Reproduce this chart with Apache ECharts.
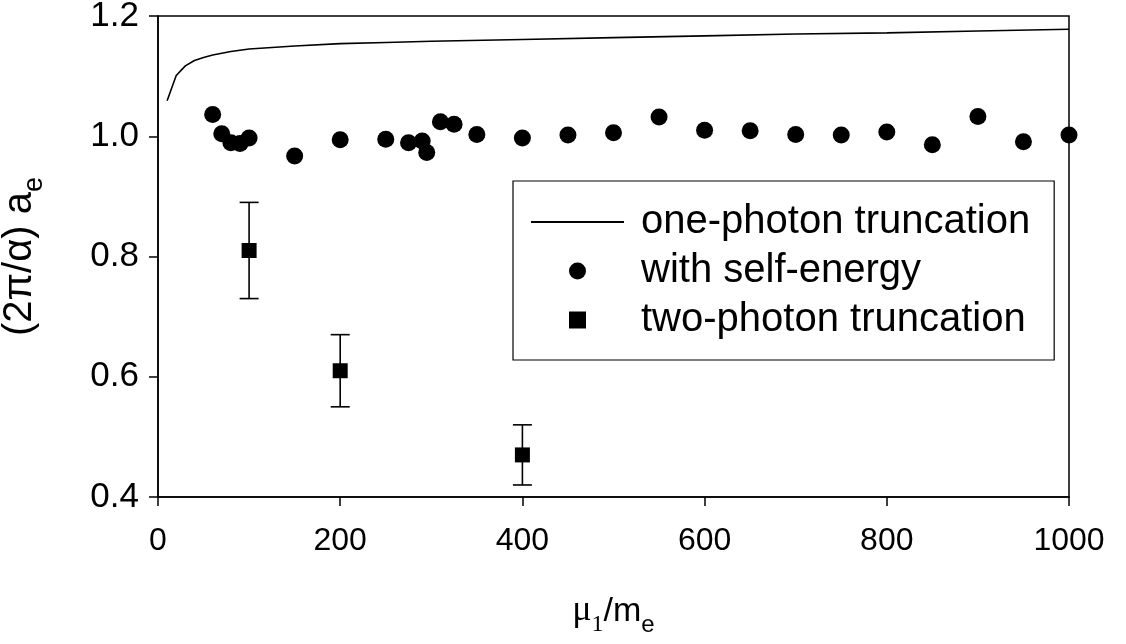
<!DOCTYPE html>
<html>
<head>
<meta charset="utf-8">
<script src="https://cdn.jsdelivr.net/npm/echarts@6/dist/echarts.min.js"></script>
<style>html,body{margin:0;padding:0;background:#fff;}#c{width:1126px;height:644px;}</style>
</head>
<body>
<div id="c"></div>
<script>
// one-photon truncation curve
const oneX = [10, 20, 30, 40, 50, 60, 70, 80, 90, 100, 150, 200, 250, 300, 400, 500, 600, 700, 800, 900, 1000];
const oneY = [1.059, 1.101, 1.117, 1.126, 1.131, 1.135, 1.138, 1.141, 1.143, 1.145, 1.150, 1.154, 1.156, 1.158, 1.161, 1.164, 1.167, 1.170, 1.172, 1.175, 1.178];
// with self-energy points
const selfX = [60, 70, 80, 90, 100, 150, 200, 250, 275, 290, 295, 310, 325, 350, 400, 450, 500, 550, 600, 650, 700, 750, 800, 850, 900, 950, 1000];
const selfY = [1.036, 1.004, 0.989, 0.988, 0.997, 0.967, 0.994, 0.995, 0.989, 0.992, 0.973, 1.024, 1.020, 1.003, 0.997, 1.002, 1.006, 1.032, 1.010, 1.009, 1.003, 1.002, 1.007, 0.986, 1.033, 0.991, 1.002];
// two-photon truncation points with error bars
const twoX = [100, 200, 400];
const twoY = [0.81, 0.61, 0.47];
const twoErr = [0.08, 0.06, 0.05];
// axis ticks
const xTicks = [0, 200, 400, 600, 800, 1000];
const yTicks = [0.4, 0.6, 0.8, 1.0, 1.2];

const SANS = '"Liberation Sans", Arial, sans-serif';
const SERIF = '"Liberation Serif", "Times New Roman", serif';
const SQUARE = 'path://M0,0L10,0L10,10L0,10Z';

const chart = echarts.init(document.getElementById('c'), null, {renderer: 'canvas'});

const option = {
  animation: false,
  backgroundColor: '#fff',
  grid: {
    left: 158, right: 57, top: 16, bottom: 147,
    outerBoundsMode: 'none', containLabel: false,
    show: true, borderColor: '#000', borderWidth: 1.5, backgroundColor: 'transparent'
  },
  legend: {
    orient: 'vertical',
    left: 513, top: 181,
    backgroundColor: '#fff',
    borderColor: '#000', borderWidth: 1.2,
    padding: [21, 24, 20, 17],
    itemWidth: 93, itemHeight: 17, itemGap: 9,
    selectedMode: false,
    textStyle: { fontFamily: SANS, fontSize: 40, color: '#000', lineHeight: 40, padding: [0, 0, 0, 12] },
    data: [
      { name: 'one-photon truncation', itemStyle: { color: 'rgba(0,0,0,0)', borderWidth: 0, opacity: 0 } },
      { name: 'with self-energy' },
      { name: 'two-photon truncation' }
    ]
  },
  xAxis: {
    type: 'value', min: xTicks[0], max: xTicks[xTicks.length - 1], interval: 200,
    axisLine: { show: true, onZero: false, lineStyle: { color: '#000', width: 1.5 } },
    axisTick: { show: true, inside: false, length: 9, lineStyle: { color: '#000', width: 1.5 } },
    splitLine: { show: false },
    axisLabel: { fontFamily: SANS, fontSize: 32, color: '#000', margin: 28, formatter: v => String(v) },
    name: '{m|μ}{s1|1}{t|/m}{s2|e}',
    nameLocation: 'middle', nameGap: 96,
    nameTextStyle: {
      rich: {
        m: { fontFamily: SERIF, fontSize: 36, color: '#000', verticalAlign: 'bottom', padding: [0, 0, 8, 0] },
        s1: { fontFamily: SERIF, fontSize: 24, color: '#000', verticalAlign: 'bottom' },
        t: { fontFamily: SANS, fontSize: 34, color: '#000', verticalAlign: 'bottom', padding: [0, 0, 8, 0] },
        s2: { fontFamily: SANS, fontSize: 24, color: '#000', verticalAlign: 'bottom' }
      }
    }
  },
  yAxis: {
    type: 'value', min: yTicks[0], max: yTicks[yTicks.length - 1], interval: 0.2,
    axisLine: { show: true, onZero: false, lineStyle: { color: '#000', width: 1.5 } },
    axisTick: { show: true, inside: false, length: 9, lineStyle: { color: '#000', width: 1.5 } },
    splitLine: { show: false },
    axisLabel: { fontFamily: SANS, fontSize: 35, color: '#000', margin: 19, formatter: v => v.toFixed(1) },
    name: '{a|(2π/α) a}{s|e}',
    nameLocation: 'middle', nameGap: 110, nameRotate: 90,
    nameTextStyle: {
      rich: {
        a: { fontFamily: SANS, fontSize: 40, color: '#000', verticalAlign: 'bottom', padding: [0, 0, 8, 0] },
        s: { fontFamily: SANS, fontSize: 27, color: '#000', verticalAlign: 'bottom' }
      }
    }
  },
  series: [
    {
      name: 'one-photon truncation', type: 'line',
      data: oneX.map((x, i) => [x, oneY[i]]),
      symbol: 'none', smooth: false,
      lineStyle: { color: '#000', width: 1.6 },
      itemStyle: { color: '#000' },
      z: 3
    },
    {
      name: 'errbars', type: 'custom',
      data: twoX.map((x, i) => [x, twoY[i] - twoErr[i], twoY[i] + twoErr[i]]),
      renderItem: function (params, api) {
        const lo = api.coord([api.value(0), api.value(1)]);
        const hi = api.coord([api.value(0), api.value(2)]);
        const cap = 9.5;
        const st = { stroke: '#000', lineWidth: 1.6 };
        return {
          type: 'group',
          children: [
            { type: 'line', shape: { x1: lo[0], y1: lo[1], x2: hi[0], y2: hi[1] }, style: st },
            { type: 'line', shape: { x1: lo[0] - cap, y1: lo[1], x2: lo[0] + cap, y2: lo[1] }, style: st },
            { type: 'line', shape: { x1: hi[0] - cap, y1: hi[1], x2: hi[0] + cap, y2: hi[1] }, style: st }
          ]
        };
      },
      z: 3
    },
    {
      name: 'with self-energy', type: 'scatter',
      data: selfX.map((x, i) => [x, selfY[i]]),
      symbol: 'circle', symbolSize: 17, clip: false,
      itemStyle: { color: '#000', opacity: 1 },
      z: 4
    },
    {
      name: 'two-photon truncation', type: 'scatter',
      data: twoX.map((x, i) => [x, twoY[i]]),
      symbol: SQUARE, symbolKeepAspect: true, symbolSize: 15, clip: false,
      itemStyle: { color: '#000', opacity: 1 },
      z: 5
    }
  ]
};
chart.setOption(option);
</script>
</body>
</html>
